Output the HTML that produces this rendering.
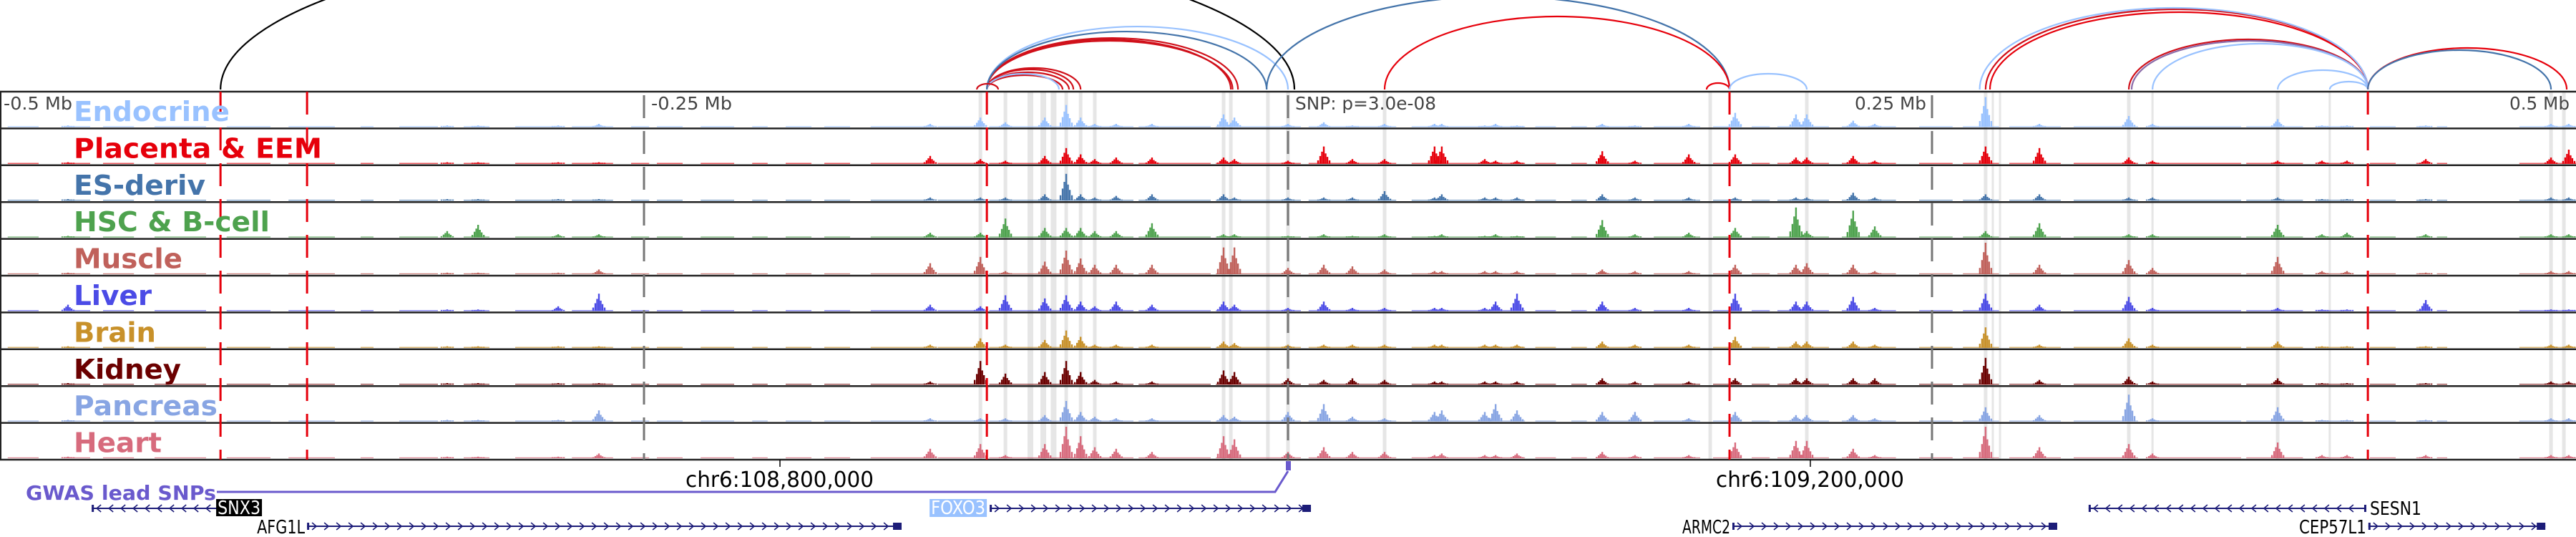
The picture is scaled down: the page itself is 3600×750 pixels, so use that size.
<!DOCTYPE html>
<html><head><meta charset="utf-8"><style>
html,body{margin:0;padding:0;background:#fff;}
svg{display:block;}
text{font-family:"DejaVu Sans","Liberation Sans",sans-serif;}
</style></head><body>
<svg id="chart" xmlns="http://www.w3.org/2000/svg" width="3600" height="750" viewBox="0 0 3600 750">
<g id="arcs"></g>
<g id="shading"></g>
<g id="tracks"></g>
<g id="vlines"></g>
<g id="labels"></g>
<g id="axis">
  <text x="5" y="153" font-size="25" fill="#444" textLength="96" lengthAdjust="spacingAndGlyphs">-0.5 Mb</text>
  <text x="910" y="153" font-size="25" fill="#444" textLength="113" lengthAdjust="spacingAndGlyphs">-0.25 Mb</text>
  <text x="1810" y="153" font-size="25" fill="#444" textLength="197" lengthAdjust="spacingAndGlyphs">SNP: p=3.0e-08</text>
  <text x="2592" y="153" font-size="25" fill="#444" textLength="100" lengthAdjust="spacingAndGlyphs">0.25 Mb</text>
  <text x="3507" y="153" font-size="25" fill="#444" textLength="84" lengthAdjust="spacingAndGlyphs">0.5 Mb</text>
</g>
<g id="bottom">
  <line x1="1090" y1="642" x2="1090" y2="652" stroke="#000" stroke-width="1.5"/>
  <line x1="2530" y1="642" x2="2530" y2="652" stroke="#000" stroke-width="1.5"/>
  <text x="958" y="680" font-size="30" fill="#000" textLength="263" lengthAdjust="spacingAndGlyphs">chr6:108,800,000</text>
  <text x="2398" y="680" font-size="30" fill="#000" textLength="263" lengthAdjust="spacingAndGlyphs">chr6:109,200,000</text>
  <text x="36" y="698" font-size="28" font-weight="bold" fill="#6a5acd" textLength="266" lengthAdjust="spacingAndGlyphs">GWAS lead SNPs</text>
  <polyline points="303,687 1782,687 1800,658" fill="none" stroke="#6a5acd" stroke-width="3"/>
  <rect x="1797" y="644" width="7" height="13" fill="#6a5acd"/>
</g>
<g id="genes"></g>
</svg>
<script>
// ---- data (positions in kb relative to SNP; heights as fraction of track) ----
const trackNames = ["Endocrine","Placenta & EEM","ES-deriv","HSC & B-cell","Muscle","Liver","Brain","Kidney","Pancreas","Heart"];
const trackColors = ["#99c2ff","#e6000b","#4474aa","#4ea24e","#c0615b","#4b4be6","#c8912a","#6b0000","#88a5e3","#d76b7d"];
const labelWidths = [218,347,184,274,152,109,115,150,201,123];
const peakPos = [-473.6,-326.4,-314.4,-283.3,-267.5,-138.9,-119.4,-109.7,-94.4,-86.1,-80.5,-75,-66.7,-52.8,-25,-20.8,0,13.9,25,37.5,56.9,59.7,76.4,80.6,88.9,122,134.7,155.6,173.6,197.2,201.4,219.4,227.8,270.8,291.7,326.4,335.6,384.2,401.4,411.1,441.7,490.3,497.2];
const endocrineVals = [0.05,0.05,0.05,0.05,0.1,0.1,0.3,0.15,0.3,0.7,0.3,0.1,0.1,0.1,0.4,0.3,0.1,0.15,0.05,0.1,0.1,0.1,0.05,0.1,0.05,0.1,0.05,0.1,0.45,0.4,0.4,0.2,0.1,0.95,0.1,0.35,0.1,0.25,0.05,0.05,0.05,0.1,0.1];
const placentaVals = [0.05,0.05,0.05,0.05,0.05,0.25,0.15,0.1,0.25,0.5,0.3,0.15,0.2,0.2,0.2,0.15,0.1,0.55,0.15,0.15,0.55,0.55,0.15,0.1,0.1,0.4,0.1,0.3,0.3,0.2,0.2,0.25,0.1,0.55,0.5,0.2,0.1,0.1,0.1,0.1,0.15,0.2,0.45];
const esVals = [0.05,0.05,0.05,0.05,0.05,0.1,0.1,0.1,0.2,0.85,0.2,0.1,0.15,0.2,0.2,0.1,0.1,0.1,0.1,0.3,0.1,0.2,0.1,0.1,0.1,0.2,0.1,0.1,0.1,0.1,0.1,0.25,0.1,0.2,0.2,0.1,0.1,0.1,0.05,0.05,0.05,0.1,0.1];
const hscVals = [0.05,0.2,0.4,0.1,0.1,0.15,0.15,0.6,0.3,0.3,0.3,0.2,0.2,0.45,0.1,0.1,0.05,0.1,0.05,0.1,0.05,0.1,0.05,0.1,0.05,0.55,0.1,0.15,0.3,0.95,0.2,0.85,0.35,0.2,0.45,0.1,0.1,0.4,0.1,0.15,0.1,0.1,0.1];
const muscleVals = [0.05,0.05,0.05,0.05,0.15,0.35,0.55,0.1,0.4,0.75,0.5,0.3,0.3,0.3,0.85,0.85,0.2,0.3,0.25,0.15,0.1,0.1,0.1,0.1,0.1,0.15,0.1,0.1,0.3,0.3,0.35,0.3,0.1,1.0,0.3,0.45,0.2,0.55,0.1,0.1,0.05,0.1,0.1];
const liverVals = [0.2,0.05,0.05,0.15,0.55,0.2,0.15,0.5,0.4,0.5,0.3,0.15,0.3,0.2,0.3,0.2,0.1,0.3,0.1,0.1,0.1,0.1,0.1,0.3,0.55,0.3,0.1,0.1,0.55,0.3,0.3,0.45,0.1,0.55,0.2,0.45,0.1,0.1,0.05,0.05,0.35,0.05,0.05];
const brainVals = [0.05,0.05,0.05,0.05,0.05,0.1,0.3,0.1,0.25,0.55,0.35,0.1,0.1,0.1,0.2,0.15,0.1,0.1,0.1,0.1,0.1,0.1,0.1,0.1,0.1,0.2,0.1,0.1,0.35,0.2,0.2,0.2,0.1,0.65,0.1,0.3,0.1,0.2,0.05,0.05,0.05,0.1,0.1];
const kidneyVals = [0.05,0.05,0.05,0.05,0.05,0.1,0.75,0.35,0.4,0.75,0.4,0.15,0.1,0.1,0.45,0.4,0.2,0.15,0.2,0.15,0.1,0.1,0.1,0.1,0.1,0.2,0.1,0.1,0.2,0.2,0.2,0.2,0.2,0.85,0.15,0.25,0.1,0.2,0.05,0.05,0.05,0.1,0.1];
const pancreasVals = [0.05,0.05,0.05,0.05,0.35,0.1,0.1,0.1,0.2,0.65,0.3,0.15,0.1,0.1,0.2,0.15,0.3,0.55,0.15,0.1,0.3,0.35,0.3,0.55,0.35,0.3,0.3,0.1,0.3,0.2,0.2,0.2,0.1,0.45,0.2,0.85,0.1,0.45,0.05,0.05,0.05,0.1,0.1];
const heartVals = [0.05,0.05,0.05,0.05,0.15,0.3,0.45,0.1,0.45,1.0,0.7,0.35,0.3,0.2,0.7,0.6,0.2,0.35,0.2,0.2,0.1,0.15,0.1,0.1,0.15,0.2,0.1,0.1,0.5,0.55,0.55,0.3,0.1,1.0,0.35,0.45,0.15,0.5,0.1,0.1,0.1,0.1,0.1];
const trackVals = [endocrineVals,placentaVals,esVals,hscVals,muscleVals,liverVals,brainVals,kidneyVals,pancreasVals,heartVals];
const bgRanges = [[-497,-485],[-474,-465],[-460,-448],[-440,-420],[-412,-395],[-388,-370],[-360,-355],[-345,-330],[-320,-310],[-300,-285],[-278,-262],[-255,-248],[-245,-235],[-228,-215],[-208,-202],[-195,-185],[-180,-170],[-162,-140],[-136,-120],[-116,-60],[-58,-30],[-28,5],[8,42],[48,92],[96,104],[110,116],[120,135],[142,160],[165,176],[180,187],[190,210],[215,236],[245,258],[262,276],[280,300],[305,330],[335,370],[372,394],[400,410],[420,430],[438,440],[446,450],[478,500]];
const shadePos = [-119.4,-109.7,-100,-95,-91,-86.1,-80.5,-75,-25,-22.2,-7.8,0,37.5,163.9,201.4,270.8,273.6,276.4,326.4,335.6,384.2,404.4,490.3,495.3];
const shadeWidths = [5,5,8,8,8,5,5,5,5,5,5,5,5,5,5,5,3,3,5,3,5,3,5,5];
const redMarkers = [-414.4,-380.8,-116.9,171.4,419.2];
const grayMarkers = [-250,0,250];
const arcStarts = [-414.4,-116.9,-116.9,-116.9,-116.9,-116.9,-116.9,-116.9,-116.9,-116.9,-116.9,-120.8,-8.3,37.5,162.5,171.4,270.8,272.5,268.5,326.4,327.5,335.6,384.2,404.4,419.2,419.2];
const arcEnds = [2.5,-83.3,-85,-87.5,-80.5,-88.9,-22.2,-21.5,-19.4,0,-8.3,-112.5,171.4,171.4,171.4,201.4,419.2,419.2,419.2,419.2,419.2,419.2,419.2,419.2,496.4,490.3];
const arcHeights = [212,28,24,20,30,22,70,68,72,88,81,8,130,102,9,22,112,108,114,70,68,64,27,11,58,55];
const arcColors = ["#000","#d0101a","#d0101a","#d0101a","#d0101a","#99c2ff","#d0101a","#d0101a","#d0101a","#99c2ff","#4474aa","#d0101a","#4474aa","#e6000b","#e6000b","#99c2ff","#d0101a","#e6000b","#99c2ff","#d0101a","#8a6aa8","#99c2ff","#99c2ff","#99c2ff","#e6000b","#4474aa"];
const geneNames = ["SNX3","AFG1L","FOXO3","ARMC2","SESN1","CEP57L1"];
const geneStarts = [-464.4,-380.8,-115.8,172.5,310.8,419.4];
const geneEnds = [-414.7,-150,8.9,298.6,418.6,488.1];
const geneStrand = [-1,1,1,1,-1,1];
const geneRows = [0,1,0,1,0,1];

const X0 = 1800, PXKB = 3.6;
const xs = kb => X0 + kb * PXKB;
const TOP = 128, TH = 51.4, NT = 10, BOTTOM = TOP + TH*NT;
const NS = "http://www.w3.org/2000/svg";
function el(tag, attrs, parent){ const e = document.createElementNS(NS, tag); for (const k in attrs) e.setAttribute(k, attrs[k]); parent.appendChild(e); return e; }

const gA = document.getElementById('arcs');
const BASE = 125;
arcStarts.forEach((s,i) => {
  const x1 = xs(s), x2 = xs(arcEnds[i]);
  const a = Math.abs(x2-x1)/2, h = arcHeights[i];
  const p = el('path', {d:`M${x1},${BASE} A${a},${h} 0 0 1 ${x2},${BASE}`, fill:'none', stroke:arcColors[i], 'stroke-width':2.2}, gA);
  
  
});

const gS = document.getElementById('shading');
shadePos.forEach((p,i) => {
  const r = el('rect', {x: xs(p)-shadeWidths[i]/2, y: TOP, width: shadeWidths[i], height: BOTTOM-TOP, fill:'#e6e6e6'}, gS);
  
  
});

const gT = document.getElementById('tracks');
const offs = [-8,-5,-2.5,0,2.5,5,8], mul = [0.2,0.45,0.7,1,0.6,0.4,0.2];
trackVals.forEach((vals, t) => {
  const g = el('g', {fill: trackColors[t]}, gT);
  
  
  const base = TOP + TH*(t+1) - 2;
  const hmax = 44;
  bgRanges.forEach(r => {
    const b = el('rect', {x: xs(r[0]), y: base-1.2, width: xs(r[1])-xs(r[0]), height: 1.2, opacity:0.8}, g);
    
    
  });
  peakPos.forEach((p, i) => {
    const v = vals[i];
    offs.forEach((o, j) => {
      const h = Math.max(1.5, v*hmax*mul[j]);
      const b = el('rect', {x: xs(p)+o-1.2, y: base-h, width: 2.4, height: h}, g);
      
      
    });
  });
});
for (let i=0;i<=NT;i++){
  const y = TOP + TH*i;
  const l = el('line', {x1:0, x2:3600, y1:y, y2:y, stroke:'#222', 'stroke-width': 2.5}, gT);
  
  
}
const lb = el('line', {x1:1, x2:1, y1:TOP, y2:BOTTOM, stroke:'#222', 'stroke-width':2}, gT);



const gV = document.getElementById('vlines');
grayMarkers.forEach(p => {
  const l = el('line', {x1:xs(p), x2:xs(p), y1:TOP+5, y2:BOTTOM, stroke:'#777', 'stroke-width':3, 'stroke-dasharray':'32,18'}, gV);
  
  
});
redMarkers.forEach(p => {
  const l = el('line', {x1:xs(p), x2:xs(p), y1:TOP, y2:BOTTOM, stroke:'#e6000b', 'stroke-width':3, 'stroke-dasharray':'32,18'}, gV);
  
  
});

const gL = document.getElementById('labels');
trackNames.forEach((n,t) => {
  const tx = el('text', {x:103, y: TOP + TH*t + 41, 'font-size':38, 'font-weight':'bold', fill: trackColors[t], textLength: labelWidths[t], lengthAdjust:'spacingAndGlyphs'}, gL);
  tx.textContent = n;
  
  
});

const gG = document.getElementById('genes');
const rowY = [710, 735];
geneNames.forEach((n,i) => {
  const g = el('g', {}, gG);
  
  
  const x1 = xs(geneStarts[i]), x2 = xs(geneEnds[i]), y = rowY[geneRows[i]];
  el('line', {x1, x2, y1:y, y2:y, stroke:'#1c1c78', 'stroke-width':2}, g);
  for (let x = x1+10; x < x2-8; x += 17) {
    const d = geneStrand[i] > 0 ? `M${x-3},${y-5} L${x+3},${y} L${x-3},${y+5}` : `M${x+3},${y-5} L${x-3},${y} L${x+3},${y+5}`;
    el('path', {d, fill:'none', stroke:'#1c1c78', 'stroke-width':1.6}, g);
  }
  el('rect', {x:x1, y:y-5, width:3, height:10, fill:'#1c1c78'}, g);
  el('rect', {x:x2-(geneStrand[i]>0?12:3), y:y-5, width:geneStrand[i]>0?12:3, height:10, fill:'#1c1c78'}, g);
  let tx;
  if (n === 'SNX3') {
    el('rect', {x:x2-5, y:697, width:64, height:24, fill:'#000'}, g);
    tx = el('text', {x:x2-3, y:718, 'font-size':26, fill:'#fff', textLength:60, lengthAdjust:'spacingAndGlyphs'}, g);
  } else if (n === 'FOXO3') {
    el('rect', {x:x1-84, y:697, width:80, height:25, fill:'#99c2ff'}, g);
    tx = el('text', {x:x1-82, y:718, 'font-size':26, fill:'#fff', textLength:76, lengthAdjust:'spacingAndGlyphs'}, g);
  } else if (n === 'SESN1') {
    tx = el('text', {x:x2+5, y:719, 'font-size':26, fill:'#000', textLength:72, lengthAdjust:'spacingAndGlyphs'}, g);
  } else {
    const w = n.length * 13.4;
    tx = el('text', {x:x1-w-3, y:745, 'font-size':26, fill:'#000', textLength:w, lengthAdjust:'spacingAndGlyphs'}, g);
  }
  tx.textContent = n;
  
  
});
</script>
</body></html>
